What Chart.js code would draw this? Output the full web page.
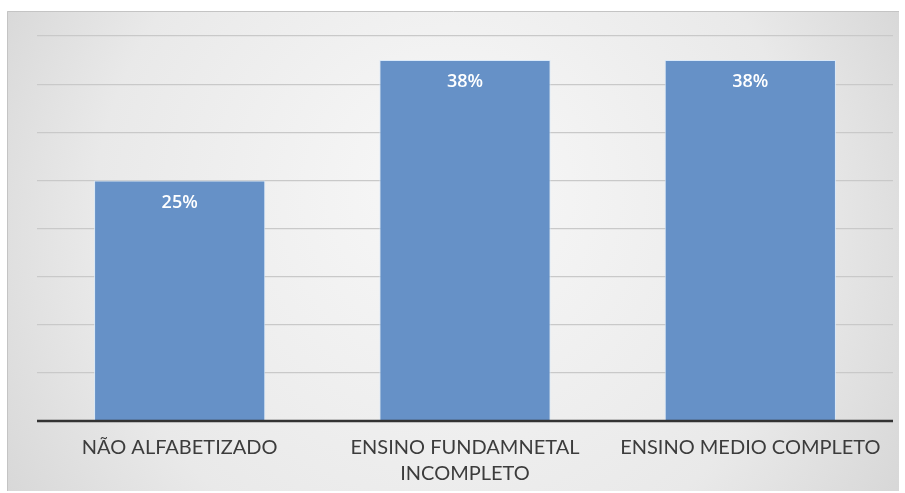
<!DOCTYPE html>
<html><head><meta charset="utf-8">
<script src="https://cdn.jsdelivr.net/npm/chart.js@4/dist/chart.umd.min.js"></script>
<style>html,body{margin:0;padding:0;background:#fff;}#wrap{width:905px;height:493px;}</style>
</head><body><div id="wrap"><canvas id="c" width="905" height="493"></canvas></div>
<script>
const categories = [["NÃO ALFABETIZADO"], ["ENSINO FUNDAMNETAL", "INCOMPLETO"], ["ENSINO MEDIO COMPLETO"]];
const values = [25, 37.5, 37.5];
const valueLabels = ["25%", "38%", "38%"];
const yMax = 40;
const yStep = 5;

const bgPlugin = {
  id: 'bg',
  beforeDraw(chart) {
    const ctx = chart.ctx;
    const x0 = 7, y0 = 11, x1 = 899, y1 = 491;
    const g = ctx.createRadialGradient(450, 180, 50, 450, 250, 560);
    g.addColorStop(0, '#f6f6f6');
    g.addColorStop(0.6, '#e9e9e9');
    g.addColorStop(1, '#d2d2d2');
    ctx.save();
    ctx.fillStyle = g;
    ctx.fillRect(x0, y0, x1 - x0, y1 - y0);
    ctx.strokeStyle = '#c4c4c4';
    ctx.lineWidth = 1;
    ctx.beginPath();
    ctx.moveTo(x0 + 0.5, y1); ctx.lineTo(x0 + 0.5, y0 + 0.5); ctx.lineTo(x1, y0 + 0.5);
    ctx.stroke();
    ctx.restore();
  }
};

const labelPlugin = {
  id: 'vlabels',
  afterDatasetsDraw(chart) {
    const ctx = chart.ctx;
    const meta = chart.getDatasetMeta(0);
    ctx.save();
    ctx.fillStyle = '#ffffff';
    ctx.font = '600 18px "Open Sans", sans-serif';
    ctx.textAlign = 'center';
    ctx.textBaseline = 'middle';
    meta.data.forEach((bar, i) => {
      ctx.fillText(valueLabels[i], bar.x, bar.y + 22);
    });
    ctx.restore();
  }
};

const axisPlugin = {
  id: 'axisline',
  afterDatasetsDraw(chart) {
    const ctx = chart.ctx, a = chart.chartArea;
    ctx.save();
    ctx.strokeStyle = '#333333';
    ctx.lineWidth = 2.5;
    ctx.beginPath();
    ctx.moveTo(a.left, a.bottom);
    ctx.lineTo(a.right, a.bottom);
    ctx.stroke();
    ctx.restore();
  }
};

new Chart(document.getElementById('c'), {
  type: 'bar',
  data: {
    labels: categories,
    datasets: [{
      data: values,
      backgroundColor: '#6691c7',
      borderColor: 'rgba(215,232,250,0.9)',
      borderWidth: 1,
      barPercentage: 0.6,
      categoryPercentage: 1.0
    }]
  },
  options: {
    responsive: false,
    animation: false,
    layout: { padding: { left: 37, right: 12, top: 36, bottom: 0 } },
    plugins: { legend: { display: false }, tooltip: { enabled: false } },
    scales: {
      x: {
        grid: { display: false, drawTicks: false },
        border: { display: false },
        afterFit(scale) { scale.height = 72; },
        ticks: {
          color: '#3c3c3c',
          padding: 13,
          maxRotation: 0,
          autoSkip: false,
          font: { family: 'Lato, sans-serif', size: 20, lineHeight: 1.32 }
        }
      },
      y: {
        min: 0, max: yMax,
        grid: { color: '#c9c9c9', lineWidth: 1.2, drawTicks: false },
        border: { display: false },
        ticks: { display: false, stepSize: yStep }
      }
    }
  },
  plugins: [bgPlugin, labelPlugin, axisPlugin]
});
</script>
</body></html>
